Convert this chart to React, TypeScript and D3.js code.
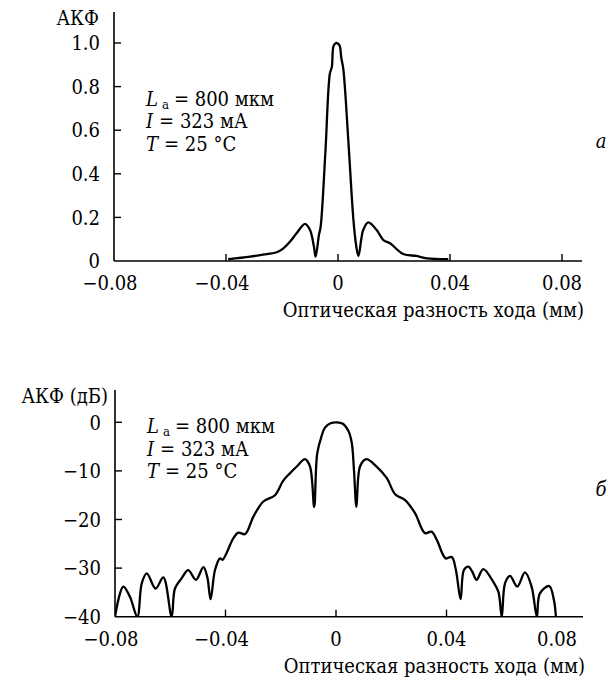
import React, { useEffect, useRef } from 'react';
import * as d3 from 'd3';

// панель а: АКФ в линейном масштабе
const topOffsets = [
  -0.0392, -0.0314, -0.0255, -0.0219, -0.0195, -0.0171, -0.0148, -0.0118, -0.0100, -0.0086,
  -0.0080, -0.0068, -0.0062, -0.0045, -0.0029, -0.0022, -0.0015, -0.0005, 0.0005, 0.0012,
  0.0019, 0.0037, 0.0055, 0.0065, 0.0073, 0.0090, 0.0108, 0.0138, 0.0162, 0.0186,
  0.0233, 0.0281, 0.0317, 0.0394
];
const topAcf = [
  0.008, 0.02, 0.032, 0.04, 0.058, 0.089, 0.127, 0.17, 0.142, 0.066,
  0.02, 0.12, 0.157, 0.5, 0.86, 0.89, 0.99, 1.0, 0.99, 0.93,
  0.88, 0.55, 0.19, 0.07, 0.023, 0.142, 0.177, 0.142, 0.096, 0.081,
  0.032, 0.023, 0.012, 0.008
];

// панель б: АКФ в дБ
const bottomOffsets = [
  -0.0800, -0.0770, -0.0746, -0.0719, -0.0703, -0.0685, -0.0653, -0.0625, -0.0595, -0.0583,
  -0.0559, -0.0535, -0.0507, -0.0480, -0.0466, -0.0454, -0.0438, -0.0420, -0.0411, -0.0372,
  -0.0354, -0.0329, -0.0299, -0.0263, -0.0221, -0.0191, -0.0167, -0.0142, -0.0112, -0.0094,
  -0.0079, -0.0068, -0.0052, -0.0040, -0.0020, 0.0003, 0.0025, 0.0045, 0.0057, 0.0065,
  0.0074, 0.0087, 0.0109, 0.0147, 0.0184, 0.0214, 0.0250, 0.0286, 0.0322, 0.0346,
  0.0365, 0.0397, 0.0419, 0.0434, 0.0451, 0.0463, 0.0479, 0.0493, 0.0509, 0.0533,
  0.0569, 0.0588, 0.0600, 0.0612, 0.0630, 0.0656, 0.0684, 0.0708, 0.0727, 0.0738,
  0.0772, 0.0789, 0.0796
];
const bottomDb = [
  -40, -33.8, -35.9, -40, -33.1, -31.1, -34.2, -31.9, -40, -34.2,
  -32.1, -30.4, -32.4, -29.8, -31.8, -36.4, -30.4, -28.0, -28.3, -23.9,
  -22.7, -23.0, -19.4, -16.3, -15.0, -12.0, -10.5, -9.1, -7.6, -9.1,
  -17.4, -6.4, -2.8, -1.1, -0.2, 0, -0.3, -1.8, -4.2, -9.8,
  -17.4, -9.1, -7.6, -9.1, -11.5, -14.8, -16.0, -18.7, -22.8, -22.5,
  -24.2, -28.0, -27.7, -30.4, -36.4, -30.4, -29.7, -30.7, -32.4, -30.2,
  -32.8, -34.9, -40, -33.1, -31.6, -33.8, -30.9, -33.8, -40, -35.2,
  -33.7, -36.6, -40
];

const xTicks = [-0.08, -0.04, 0, 0.04, 0.08];
const xTickLabels = ['−0.08', '−0.04', '0', '0.04', '0.08'];
const topYTicks = [0, 0.2, 0.4, 0.6, 0.8, 1.0];
const topYTickLabels = ['0', '0.2', '0.4', '0.6', '0.8', '1.0'];
const bottomYTicks = [-40, -30, -20, -10, 0];
const bottomYTickLabels = ['−40', '−30', '−20', '−10', '0'];

const xTitle = 'Оптическая разность хода (мм)';
const paramLines = [
  { sym: 'L', sub: 'а', rest: '= 800 мкм' },
  { sym: 'I', sub: '', rest: '= 323 мА' },
  { sym: 'T', sub: '', rest: '= 25 °C' }
];

const FONT = "'DejaVu Serif Condensed', 'DejaVu Serif', serif";
const FS = 20;

const App = () => {
  const svgRef = useRef(null);

  useEffect(() => {
    const svg = d3.select(svgRef.current)
      .attr('font-family', FONT);
    svg.selectAll('*').remove();

    const drawPanel = (cfg) => {
      const { x, y, xs, ys, yTicks, yLabels, axisTop, axisRight, yTitle, yTitleX, yTitleY, paramY, letter, letterX, letterY, drawTick, clipId } = cfg;
      const g = svg.append('g');
      const x0 = x.range()[0];
      const y0 = y.range()[0];

      // оси
      g.append('line')
        .attr('x1', x0).attr('x2', x0)
        .attr('y1', axisTop).attr('y2', y0)
        .style('stroke', '#000').style('stroke-width', 1.6);
      g.append('line')
        .attr('x1', x0).attr('x2', axisRight)
        .attr('y1', y0).attr('y2', y0)
        .style('stroke', '#000').style('stroke-width', 1.6);

      // деления по Y
      yTicks.forEach((t, i) => {
        if (i > 0) {
          g.append('line')
            .attr('x1', x0).attr('x2', x0 + 7)
            .attr('y1', y(t)).attr('y2', y(t))
            .style('stroke', '#000').style('stroke-width', 1.4);
        }
        g.append('text')
          .attr('x', x0 - 14)
          .attr('y', y(t))
          .attr('dy', '0.36em')
          .attr('text-anchor', 'end')
          .attr('font-size', FS)
          .text(yLabels[i]);
      });

      // деления по X
      xTicks.forEach((t, i) => {
        if (i > 0 && drawTick(t)) {
          g.append('line')
            .attr('x1', x(t)).attr('x2', x(t))
            .attr('y1', y0).attr('y2', y0 - 7)
            .style('stroke', '#000').style('stroke-width', 1.4);
        }
        g.append('text')
          .attr('x', x(t) + (t < 0 ? -4 : 0))
          .attr('y', y0 + 29)
          .attr('text-anchor', 'middle')
          .attr('font-size', FS)
          .text(xTickLabels[i]);
      });

      g.append('text')
        .attr('x', axisRight + 2)
        .attr('y', y0 + 56)
        .attr('text-anchor', 'end')
        .attr('font-size', FS)
        .text(xTitle);

      g.append('text')
        .attr('x', yTitleX)
        .attr('y', yTitleY)
        .attr('text-anchor', 'end')
        .attr('font-size', FS)
        .text(yTitle);

      // параметры: символ, индекс и остаток отдельными текстами
      paramLines.forEach((p, i) => {
        const by = paramY + i * 22.5;
        let cx = x0 + 32;
        const sym = g.append('text')
          .attr('x', cx).attr('y', by)
          .attr('font-size', FS)
          .attr('font-style', 'italic')
          .text(p.sym);
        cx += sym.node().getComputedTextLength();
        if (p.sub) {
          const sub = g.append('text')
            .attr('x', cx + 4).attr('y', by + 3)
            .attr('font-size', 13)
            .text(p.sub);
          cx += sub.node().getComputedTextLength() + 3;
        }
        g.append('text')
          .attr('x', cx + 6).attr('y', by)
          .attr('font-size', FS)
          .text(p.rest);
      });

      g.append('text')
        .attr('x', letterX)
        .attr('y', letterY)
        .attr('text-anchor', 'middle')
        .attr('font-size', FS)
        .attr('font-style', 'italic')
        .text(letter);

      svg.append('clipPath').attr('id', clipId)
        .append('rect')
        .attr('x', x0).attr('y', axisTop)
        .attr('width', axisRight - x0).attr('height', y0 - axisTop);

      // кривая
      const line = d3.line()
        .x(d => x(d[0]))
        .y(d => y(d[1]))
        .curve(d3.curveCatmullRom.alpha(0.5));

      g.append('path')
        .datum(d3.zip(xs, ys))
        .attr('d', line)
        .attr('clip-path', `url(#${clipId})`)
        .style('fill', 'none')
        .style('stroke', '#000')
        .style('stroke-width', 2.3)
        .style('stroke-linejoin', 'round');
    };

    drawPanel({
      x: d3.scaleLinear().domain([-0.08, 0.08]).range([114, 562]),
      y: d3.scaleLinear().domain([0, 1]).range([261, 43]),
      xs: topOffsets,
      ys: topAcf,
      yTicks: topYTicks,
      yLabels: topYTickLabels,
      axisTop: 12,
      axisRight: 582,
      yTitle: 'АКФ',
      yTitleX: 99,
      yTitleY: 25,
      paramY: 105.5,
      letter: 'а',
      letterX: 601,
      letterY: 148,
      drawTick: () => true,
      clipId: 'clip-a'
    });

    drawPanel({
      x: d3.scaleLinear().domain([-0.08, 0.08]).range([115, 557]),
      y: d3.scaleLinear().domain([-40, 0]).range([616.7, 422.3]),
      xs: bottomOffsets,
      ys: bottomDb,
      yTicks: bottomYTicks,
      yLabels: bottomYTickLabels,
      axisTop: 390,
      axisRight: 583,
      yTitle: 'АКФ (дБ)',
      yTitleX: 108,
      yTitleY: 403,
      paramY: 433,
      letter: 'б',
      letterX: 601,
      letterY: 496,
      drawTick: (t) => t < 0.08,
      clipId: 'clip-b'
    });
  }, []);

  return (
    <div style={{ position: 'absolute', left: 0, top: 0, width: 608, height: 682, background: '#fff' }}>
      <svg ref={svgRef} width={608} height={682} style={{ display: 'block' }}></svg>
    </div>
  );
};

export default App;
